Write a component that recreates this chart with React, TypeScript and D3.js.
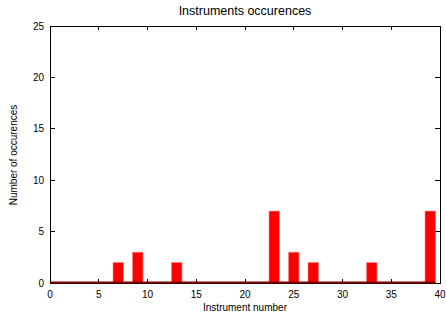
import * as d3 from 'd3';

const instruments = [7, 9, 13, 23, 25, 27, 33, 39];
const occurrences = [2, 3, 2, 7, 3, 2, 2, 7];
const xTicks = [0, 5, 10, 15, 20, 25, 30, 35, 40];
const yTicks = [0, 5, 10, 15, 20, 25];

export default function App() {
  const width = 446;
  const height = 316;
  const margin = { top: 26, right: 6, bottom: 33, left: 50 };
  const innerW = width - margin.left - margin.right;
  const innerH = height - margin.top - margin.bottom;

  const x = d3.scaleLinear().domain([0, 40]).range([0, innerW]);
  const y = d3.scaleLinear().domain([0, 25]).range([innerH, 0]);
  const boxW = x(1.08) - x(0);
  const font = 'Liberation Sans, Arial, sans-serif';

  return (
    <svg width={width} height={height} style={{ position: 'absolute', left: 0, top: 0, background: '#fff' }}>
      <text x={245} y={15} textAnchor="middle" fontFamily={font} fontSize={12.5}>Instruments occurences</text>
      <g transform={`translate(${margin.left},${margin.top})`}>
        {/* bars */}
        {instruments.map((d, i) => (
          <rect
            key={d}
            x={x(d) - boxW / 2}
            y={y(occurrences[i])}
            width={boxW}
            height={innerH - y(occurrences[i])}
            fill="#ff0000"
            stroke="#ff9090"
            strokeWidth={0.6}
          />
        ))}
        {/* frame */}
        <rect x={0} y={0} width={innerW} height={innerH} fill="none" stroke="#000" strokeWidth={1} shapeRendering="crispEdges" />
        {xTicks.map(t => (
          <g key={'x' + t}>
            <line x1={x(t)} x2={x(t)} y1={innerH} y2={innerH - 4} stroke="#000" shapeRendering="crispEdges" />
            <line x1={x(t)} x2={x(t)} y1={0} y2={4} stroke="#000" shapeRendering="crispEdges" />
            <text x={x(t)} y={innerH + 15} textAnchor="middle" fontFamily={font} fontSize={10}>{t}</text>
          </g>
        ))}
        {yTicks.map(t => (
          <g key={'y' + t}>
            <line x1={0} x2={5} y1={y(t)} y2={y(t)} stroke="#000" shapeRendering="crispEdges" />
            <line x1={innerW} x2={innerW - 5} y1={y(t)} y2={y(t)} stroke="#000" shapeRendering="crispEdges" />
            <text x={-6} y={y(t) + 3.5} textAnchor="end" fontFamily={font} fontSize={10}>{t}</text>
          </g>
        ))}
        {/* zero baseline of the boxes */}
        <line x1={x(0)} x2={x(39) + boxW / 2} y1={innerH - 0.5} y2={innerH - 0.5} stroke="#800000" strokeWidth={2} />
      </g>
      <text x={245} y={311} textAnchor="middle" fontFamily={font} fontSize={10}>Instrument number</text>
      <text transform={`translate(17,155) rotate(-90)`} textAnchor="middle" fontFamily={font} fontSize={10}>Number of occurences</text>
    </svg>
  );
}
